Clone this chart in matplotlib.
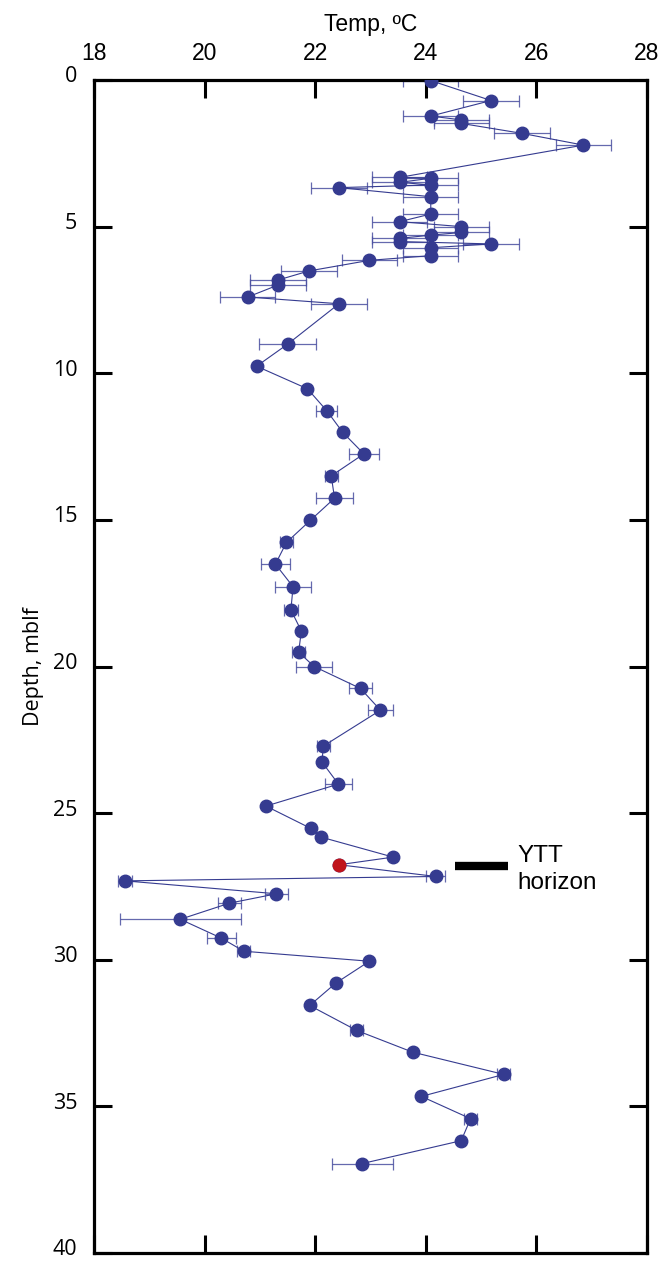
import numpy as np
import matplotlib
matplotlib.use('Agg')
from matplotlib import pyplot as plt
from matplotlib.transforms import ScaledTranslation

# temperature (degC), depth (mblf), half error (degC)
temp = [24.09, 25.18, 24.09, 24.64, 24.64, 25.74, 26.85,
        23.53, 24.09, 23.53, 24.09, 22.43, 24.09, 24.09, 23.53,
        24.64, 24.64, 24.09, 23.53, 23.53, 25.18, 24.09, 24.09,
        22.98, 21.89, 21.33, 21.33, 20.78, 22.43, 21.50, 20.94,
        21.86, 22.21, 22.50, 22.88, 22.29, 22.35, 21.91, 21.48,
        21.28, 21.60, 21.56, 21.75, 21.70, 21.98, 22.82, 23.18,
        22.15, 22.12, 22.42, 21.11, 21.92, 22.11, 23.41, 22.43,
        24.18, 18.56, 21.30, 20.45, 19.56, 20.30, 20.71, 22.98,
        22.37, 21.90, 22.75, 23.76, 25.41, 23.92, 24.81, 24.64,
        22.85]
depth = [0.02, 0.70, 1.23, 1.36, 1.48, 1.82, 2.22,
         3.32, 3.35, 3.49, 3.58, 3.67, 3.98, 4.57, 4.83,
         5.00, 5.20, 5.29, 5.40, 5.51, 5.59, 5.72, 5.99,
         6.15, 6.51, 6.82, 6.99, 7.40, 7.63, 9.01, 9.76,
         10.53, 11.28, 12.02, 12.75, 13.50, 14.26, 15.02, 15.77,
         16.51, 17.28, 18.07, 18.79, 19.51, 20.00, 20.75, 21.49,
         22.71, 23.25, 24.01, 24.76, 25.52, 25.82, 26.50, 26.76,
         27.16, 27.31, 27.75, 28.07, 28.62, 29.26, 29.71, 30.05,
         30.80, 31.56, 32.41, 33.15, 33.91, 34.66, 35.42, 36.17,
         36.95]
err = [0.5, 0.5, 0.5, 0.5, 0.5, 0.5, 0.5,
       0.5, 0.5, 0.5, 0.5, 0.5, 0.5, 0.5, 0.5,
       0.5, 0.5, 0.5, 0.5, 0.5, 0.5, 0.5, 0.5,
       0.5, 0.5, 0.5, 0.5, 0.5, 0.5, 0.51, 0,
       0, 0.19, 0, 0.27, 0.12, 0.33, 0, 0.12,
       0.26, 0.33, 0.12, 0, 0.12, 0.32, 0.20, 0.23,
       0.12, 0, 0.25, 0, 0, 0, 0, 0,
       0.17, 0.12, 0.21, 0.20, 1.09, 0.26, 0.12, 0,
       0, 0, 0.12, 0, 0.12, 0, 0.12, 0,
       0.55]

ytt_index = 54  # the red sample at the YTT horizon
ytt_bar = [24.53, 25.49]

navy = '#353b90'
sans = ['Liberation Sans', 'DejaVu Sans']
open_sans = ['Open Sans', 'DejaVu Sans']

fig = plt.figure(figsize=(6.67, 12.62), dpi=100)
ax = fig.add_axes([94 / 667, 1 - 1253 / 1262, 553 / 667, 1173 / 1262])

ax.errorbar(temp, depth, xerr=err, fmt='none', ecolor='#4a4fa0',
            elinewidth=0.9, capsize=4.5, capthick=0.9, alpha=0.85, zorder=2)
ax.plot(temp, depth, '-', color=navy, lw=0.8, zorder=3)
ax.plot(temp, depth, 'o', color=navy, ms=9, mec=navy, zorder=4)
ax.plot(temp[ytt_index], depth[ytt_index], 'o', color='#c0141c', ms=9,
        mec='#c0141c', zorder=5)

# YTT horizon marker
yd = depth[ytt_index] + 0.04
ax.plot(ytt_bar, [yd, yd], color='black', lw=6, solid_capstyle='butt',
        clip_on=False, zorder=5)
ax.text(ytt_bar[1] + 0.17, yd + 0.13, 'YTT\nhorizon', family=sans, fontsize=17.5,
        ha='left', va='center', linespacing=1.3)

ax.set_xlim(18, 28)
ax.set_ylim(40, 0)
ax.set_xticks(np.arange(18, 29, 2))
ax.set_yticks(np.arange(0, 41, 5))

ax.xaxis.tick_top()
ax.xaxis.set_label_position('top')
ax.tick_params(axis='both', which='both', direction='in', length=13, width=2.2,
               top=True, bottom=True, left=True, right=True)
ax.tick_params(axis='x', labeltop=True, labelbottom=False, pad=11)
ax.tick_params(axis='y', pad=12)
shift = ScaledTranslation(0, 4 / 72, fig.dpi_scale_trans)
for lab in ax.get_xticklabels():
    lab.set_family(sans)
    lab.set_fontsize(16.5)
for lab in ax.get_yticklabels():
    lab.set_family(open_sans)
    lab.set_fontsize(15.5)
    lab.set_transform(lab.get_transform() + shift)
for s in ax.spines.values():
    s.set_linewidth(2.3)

ax.set_xlabel('Temp, ºC', family=sans, fontsize=16.5, labelpad=8)
ax.set_ylabel('Depth, mblf', family=open_sans, fontsize=15.5, labelpad=6)

fig.savefig('out.png', dpi=100)
